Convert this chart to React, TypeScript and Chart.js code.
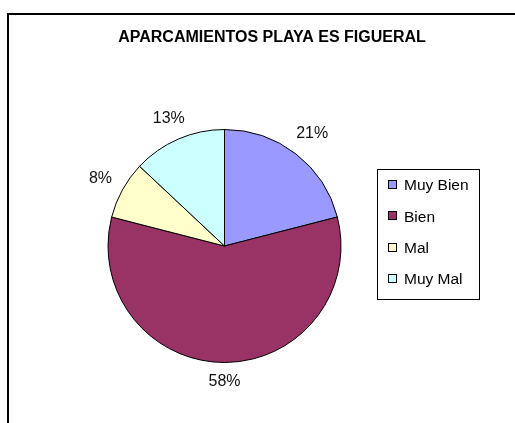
import React, { useEffect, useRef } from "react";
import { Chart, registerables } from "chart.js";

Chart.register(...registerables);

const TITLE = "APARCAMIENTOS PLAYA ES FIGUERAL";
const categories = ["Muy Bien", "Bien", "Mal", "Muy Mal"];
const values = [21, 58, 8, 13];
const sliceColors = ["#9999FF", "#993366", "#FFFFCC", "#CCFFFF"];

const FONT = "'Liberation Sans', Arial, sans-serif";

const decorPlugin = {
  id: "decor",
  afterDraw(chart: any) {
    const ctx = chart.ctx as CanvasRenderingContext2D;
    ctx.save();
    // outer frame
    ctx.strokeStyle = "#000";
    ctx.lineWidth = 2;
    ctx.strokeRect(8, 14, 700, 600);

    // title
    ctx.fillStyle = "#000";
    ctx.font = `bold 16px ${FONT}`;
    ctx.textAlign = "center";
    ctx.textBaseline = "middle";
    ctx.fillText(TITLE, 272, 38);

    // percentage labels
    const meta = chart.getDatasetMeta(0);
    const total = values.reduce((a, b) => a + b, 0);
    ctx.font = `16px ${FONT}`;
    meta.data.forEach((arc: any, i: number) => {
      const { x, y, startAngle, endAngle, outerRadius } = arc.getProps(
        ["x", "y", "startAngle", "endAngle", "outerRadius"],
        true
      );
      const mid = (startAngle + endAngle) / 2;
      const dx = Math.cos(mid);
      const dy = Math.sin(mid);
      const txt = Math.round((values[i] / total) * 100) + "%";
      const w = ctx.measureText(txt).width;
      const h = 12;
      const dist = outerRadius + 12 + Math.abs(dx) * w / 2 + Math.abs(dy) * h / 2;
      ctx.fillStyle = "#111";
      ctx.fillText(txt, x + dx * dist, y + dy * dist + 1);
    });

    // legend
    ctx.lineWidth = 1;
    ctx.strokeStyle = "#000";
    ctx.strokeRect(377.5, 169.5, 102, 130);
    ctx.font = `15.5px ${FONT}`;
    ctx.textAlign = "left";
    categories.forEach((c, i) => {
      const cy = 185 + i * 31.3;
      ctx.fillStyle = sliceColors[i];
      ctx.fillRect(389, Math.round(cy) - 4, 7, 7);
      ctx.strokeStyle = "#000";
      ctx.strokeRect(388.5, Math.round(cy) - 4.5, 8, 8);
      ctx.fillStyle = "#000";
      ctx.fillText(c, 404, cy + 1);
    });
    ctx.restore();
  },
};

export default function App() {
  const ref = useRef<HTMLCanvasElement | null>(null);
  useEffect(() => {
    if (!ref.current) return;
    const chart = new Chart(ref.current, {
      type: "pie",
      data: {
        labels: categories,
        datasets: [
          {
            data: values,
            backgroundColor: sliceColors,
            borderColor: "#000",
            borderWidth: 1,
          },
        ],
      },
      options: {
        animation: false,
        responsive: false,
        events: [],
        layout: {
          padding: { left: 107.5, right: 173.5, top: 129, bottom: 60 },
        },
        plugins: {
          legend: { display: false },
          title: { display: false },
          tooltip: { enabled: false },
        },
      },
      plugins: [decorPlugin],
    });
    return () => chart.destroy();
  }, []);
  return (
    <div style={{ position: "fixed", left: 0, top: 0, width: 515, height: 423, background: "#fff" }}>
      <canvas ref={ref} width={515} height={423} style={{ width: 515, height: 423 }} />
    </div>
  );
}
